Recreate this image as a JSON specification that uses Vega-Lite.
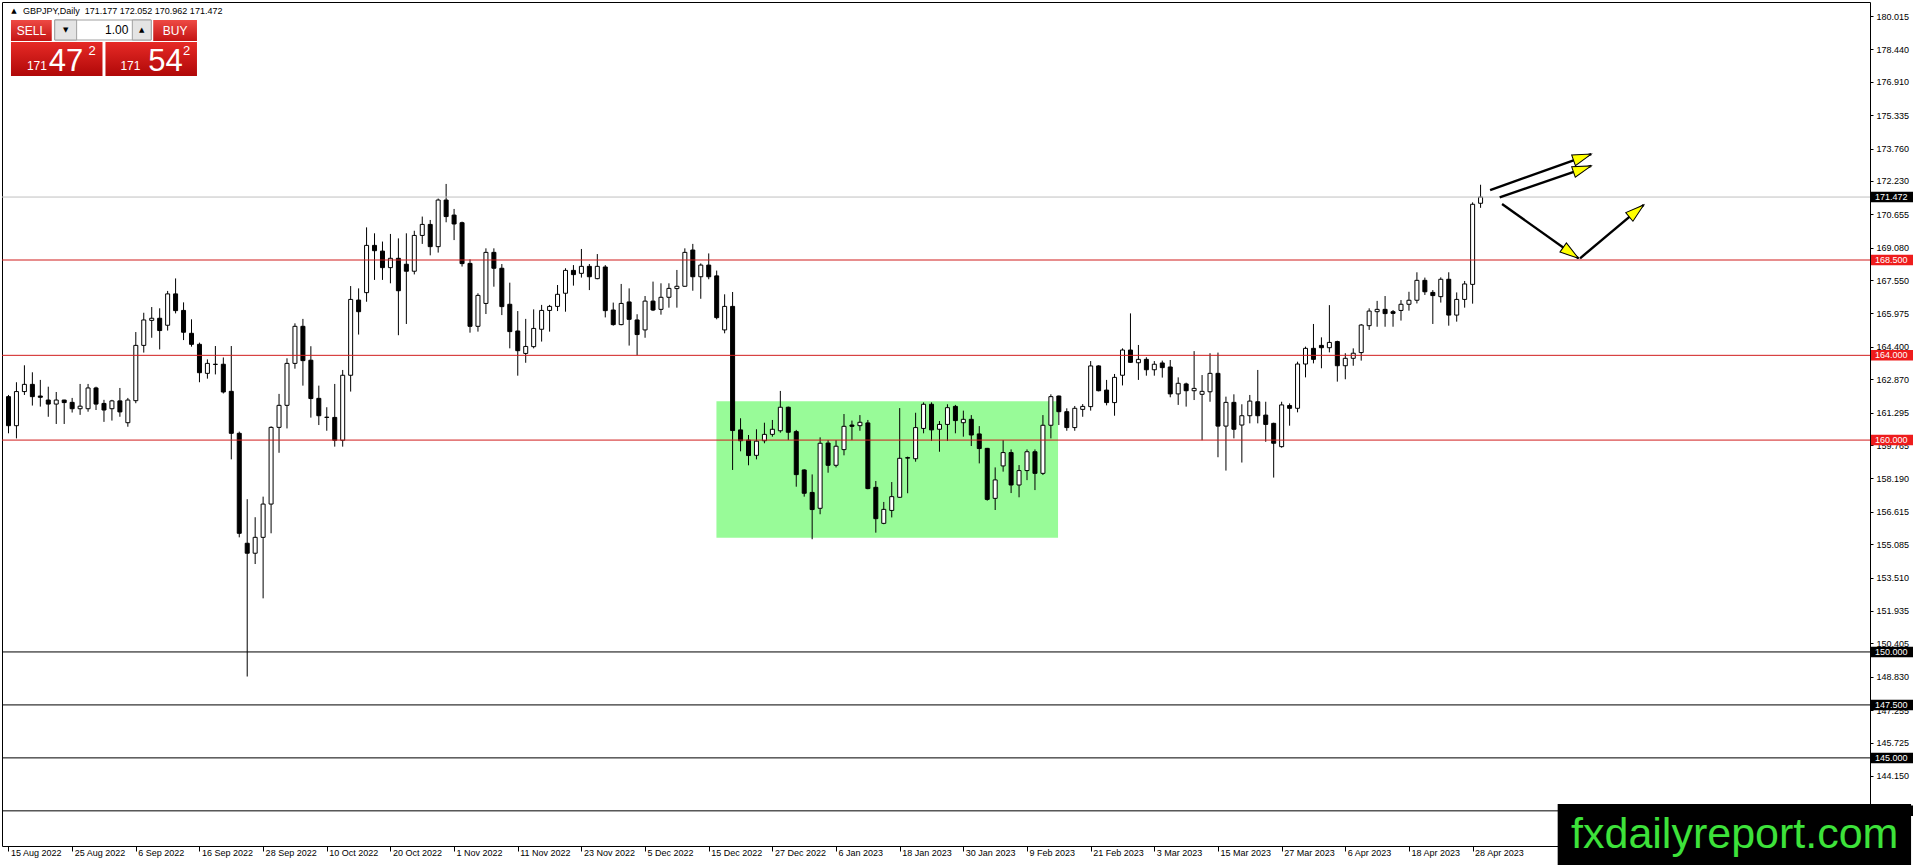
{
  "$schema": "https://vega.github.io/schema/vega-lite/v6.json",
  "width": 1868,
  "height": 844,
  "autosize": {"type": "none"},
  "padding": {"left": 2, "top": 2, "right": 46, "bottom": 19},
  "background": "white",
  "config": {
    "view": {"stroke": "black", "strokeWidth": 1},
    "axis": {
      "grid": false,
      "domain": false,
      "title": null,
      "labelFont": "Liberation Sans",
      "labelFontSize": 9,
      "labelColor": "black",
      "tickColor": "black",
      "labelOverlap": false,
      "labelFlush": false
    },
    "text": {"font": "Liberation Sans"}
  },
  "datasets": {
    "candles": [
      {"i":0,"date":"2022-08-15","o":162.05,"h":162.13,"l":160.32,"c":160.68},
      {"i":1,"date":"2022-08-16","o":160.68,"h":162.73,"l":160.08,"c":162.29},
      {"i":2,"date":"2022-08-17","o":162.29,"h":163.53,"l":162.13,"c":162.63},
      {"i":3,"date":"2022-08-18","o":162.63,"h":163.2,"l":161.63,"c":162.05},
      {"i":4,"date":"2022-08-19","o":162.08,"h":162.84,"l":161.58,"c":162.02},
      {"i":5,"date":"2022-08-22","o":161.89,"h":162.52,"l":161.1,"c":161.7},
      {"i":6,"date":"2022-08-23","o":161.7,"h":162.27,"l":160.76,"c":161.89},
      {"i":7,"date":"2022-08-24","o":161.89,"h":161.9,"l":160.76,"c":161.77},
      {"i":8,"date":"2022-08-25","o":161.78,"h":161.99,"l":161.3,"c":161.48},
      {"i":9,"date":"2022-08-26","o":161.48,"h":162.65,"l":161.19,"c":161.6},
      {"i":10,"date":"2022-08-29","o":161.48,"h":162.65,"l":161.34,"c":162.46},
      {"i":11,"date":"2022-08-30","o":162.46,"h":162.52,"l":161.42,"c":161.7},
      {"i":12,"date":"2022-08-31","o":161.73,"h":161.9,"l":160.86,"c":161.42},
      {"i":13,"date":"2022-09-01","o":161.48,"h":161.9,"l":160.92,"c":161.85},
      {"i":14,"date":"2022-09-02","o":161.85,"h":162.46,"l":161.1,"c":161.33},
      {"i":15,"date":"2022-09-05","o":160.82,"h":161.99,"l":160.63,"c":161.89},
      {"i":16,"date":"2022-09-06","o":161.86,"h":165.1,"l":161.74,"c":164.47},
      {"i":17,"date":"2022-09-07","o":164.47,"h":166.01,"l":164.13,"c":165.67},
      {"i":18,"date":"2022-09-08","o":165.65,"h":166.28,"l":164.83,"c":165.75},
      {"i":19,"date":"2022-09-09","o":165.75,"h":166.22,"l":164.28,"c":165.17},
      {"i":20,"date":"2022-09-12","o":165.42,"h":167.04,"l":165.17,"c":166.9},
      {"i":21,"date":"2022-09-13","o":166.9,"h":167.63,"l":165.98,"c":166.11},
      {"i":22,"date":"2022-09-14","o":166.12,"h":166.5,"l":164.72,"c":165.09},
      {"i":23,"date":"2022-09-15","o":165.04,"h":165.7,"l":164.41,"c":164.52},
      {"i":24,"date":"2022-09-16","o":164.52,"h":164.6,"l":162.73,"c":163.18},
      {"i":25,"date":"2022-09-19","o":163.15,"h":163.81,"l":162.9,"c":163.62},
      {"i":26,"date":"2022-09-20","o":163.58,"h":164.44,"l":163.1,"c":163.57},
      {"i":27,"date":"2022-09-21","o":163.58,"h":163.9,"l":162.2,"c":162.27},
      {"i":28,"date":"2022-09-22","o":162.3,"h":164.44,"l":159.09,"c":160.32},
      {"i":29,"date":"2022-09-23","o":160.32,"h":160.4,"l":155.41,"c":155.6},
      {"i":30,"date":"2022-09-26","o":155.13,"h":157.21,"l":148.84,"c":154.66},
      {"i":31,"date":"2022-09-27","o":154.66,"h":156.36,"l":154.15,"c":155.41},
      {"i":32,"date":"2022-09-28","o":155.41,"h":157.33,"l":152.53,"c":156.98},
      {"i":33,"date":"2022-09-29","o":156.98,"h":160.65,"l":155.6,"c":160.6},
      {"i":34,"date":"2022-09-30","o":160.6,"h":162.18,"l":159.4,"c":161.64},
      {"i":35,"date":"2022-10-03","o":161.64,"h":163.86,"l":160.55,"c":163.62},
      {"i":36,"date":"2022-10-04","o":163.62,"h":165.51,"l":163.37,"c":165.37},
      {"i":37,"date":"2022-10-05","o":165.37,"h":165.72,"l":162.57,"c":163.75},
      {"i":38,"date":"2022-10-06","o":163.77,"h":164.43,"l":161.06,"c":161.96},
      {"i":39,"date":"2022-10-07","o":161.97,"h":162.57,"l":160.71,"c":161.15},
      {"i":40,"date":"2022-10-10","o":161.08,"h":161.55,"l":160.44,"c":161.07},
      {"i":41,"date":"2022-10-11","o":161.07,"h":162.65,"l":159.69,"c":159.99},
      {"i":42,"date":"2022-10-12","o":159.99,"h":163.31,"l":159.69,"c":163.06},
      {"i":43,"date":"2022-10-13","o":163.06,"h":167.27,"l":162.29,"c":166.64},
      {"i":44,"date":"2022-10-14","o":166.61,"h":167.16,"l":164.98,"c":166.06},
      {"i":45,"date":"2022-10-17","o":166.96,"h":170.04,"l":166.53,"c":169.19},
      {"i":46,"date":"2022-10-18","o":169.19,"h":169.76,"l":167.56,"c":168.94},
      {"i":47,"date":"2022-10-19","o":168.92,"h":169.37,"l":167.56,"c":168.14},
      {"i":48,"date":"2022-10-20","o":168.14,"h":169.73,"l":167.4,"c":168.58},
      {"i":49,"date":"2022-10-21","o":168.58,"h":169.52,"l":164.95,"c":167.05},
      {"i":50,"date":"2022-10-24","o":168.3,"h":169.76,"l":165.48,"c":167.97},
      {"i":51,"date":"2022-10-25","o":167.97,"h":169.88,"l":167.82,"c":169.66},
      {"i":52,"date":"2022-10-26","o":169.66,"h":170.55,"l":169.26,"c":170.18},
      {"i":53,"date":"2022-10-27","o":170.18,"h":170.39,"l":168.72,"c":169.13},
      {"i":54,"date":"2022-10-28","o":169.13,"h":171.4,"l":168.85,"c":171.33},
      {"i":55,"date":"2022-10-31","o":171.33,"h":172.09,"l":170.28,"c":170.55},
      {"i":56,"date":"2022-11-01","o":170.62,"h":170.91,"l":169.44,"c":170.2},
      {"i":57,"date":"2022-11-02","o":170.26,"h":170.31,"l":168.19,"c":168.33},
      {"i":58,"date":"2022-11-03","o":168.34,"h":168.53,"l":165.07,"c":165.37},
      {"i":59,"date":"2022-11-04","o":165.37,"h":166.93,"l":165.12,"c":166.83},
      {"i":60,"date":"2022-11-07","o":166.45,"h":169.05,"l":165.95,"c":168.86},
      {"i":61,"date":"2022-11-08","o":168.86,"h":169.05,"l":167.24,"c":168.11},
      {"i":62,"date":"2022-11-09","o":168.11,"h":168.31,"l":165.9,"c":166.3},
      {"i":63,"date":"2022-11-10","o":166.41,"h":167.43,"l":164.33,"c":165.12},
      {"i":64,"date":"2022-11-11","o":165.15,"h":166.09,"l":163.04,"c":164.22},
      {"i":65,"date":"2022-11-14","o":164.09,"h":165.72,"l":163.65,"c":164.42},
      {"i":66,"date":"2022-11-15","o":164.41,"h":166.17,"l":164.33,"c":165.27},
      {"i":67,"date":"2022-11-16","o":165.23,"h":166.38,"l":164.65,"c":166.12},
      {"i":68,"date":"2022-11-17","o":166.12,"h":166.38,"l":165.12,"c":166.31},
      {"i":69,"date":"2022-11-18","o":166.31,"h":167.32,"l":166.09,"c":166.88},
      {"i":70,"date":"2022-11-21","o":166.93,"h":168.11,"l":166.06,"c":168.01},
      {"i":71,"date":"2022-11-22","o":168.01,"h":168.26,"l":167.29,"c":167.81},
      {"i":72,"date":"2022-11-23","o":167.87,"h":169.02,"l":167.67,"c":168.2},
      {"i":73,"date":"2022-11-24","o":168.2,"h":168.31,"l":167.08,"c":167.71},
      {"i":74,"date":"2022-11-25","o":167.62,"h":168.78,"l":167.59,"c":168.2},
      {"i":75,"date":"2022-11-28","o":168.17,"h":168.26,"l":165.79,"c":166.11},
      {"i":76,"date":"2022-11-29","o":166.14,"h":166.49,"l":165.4,"c":165.45},
      {"i":77,"date":"2022-11-30","o":165.45,"h":167.37,"l":165.42,"c":166.45},
      {"i":78,"date":"2022-12-01","o":166.52,"h":167.16,"l":164.46,"c":165.7},
      {"i":79,"date":"2022-12-02","o":165.67,"h":165.94,"l":164.0,"c":164.98},
      {"i":80,"date":"2022-12-05","o":165.2,"h":166.8,"l":164.83,"c":166.56},
      {"i":81,"date":"2022-12-06","o":166.56,"h":167.48,"l":166.09,"c":166.14},
      {"i":82,"date":"2022-12-07","o":166.17,"h":167.4,"l":165.92,"c":166.74},
      {"i":83,"date":"2022-12-08","o":166.74,"h":167.4,"l":166.25,"c":167.16},
      {"i":84,"date":"2022-12-09","o":167.15,"h":168.03,"l":166.25,"c":167.26},
      {"i":85,"date":"2022-12-12","o":167.26,"h":169.05,"l":167.24,"c":168.86},
      {"i":86,"date":"2022-12-13","o":168.97,"h":169.26,"l":167.05,"c":167.71},
      {"i":87,"date":"2022-12-14","o":167.71,"h":168.34,"l":166.67,"c":168.26},
      {"i":88,"date":"2022-12-15","o":168.26,"h":168.81,"l":167.59,"c":167.71},
      {"i":89,"date":"2022-12-16","o":167.75,"h":168.0,"l":165.7,"c":165.78},
      {"i":90,"date":"2022-12-19","o":165.2,"h":166.88,"l":165.04,"c":166.31},
      {"i":91,"date":"2022-12-20","o":166.31,"h":166.99,"l":158.59,"c":160.45},
      {"i":92,"date":"2022-12-21","o":160.48,"h":161.03,"l":159.47,"c":159.97},
      {"i":93,"date":"2022-12-22","o":160.0,"h":160.24,"l":158.81,"c":159.27},
      {"i":94,"date":"2022-12-23","o":159.28,"h":160.51,"l":159.09,"c":159.95},
      {"i":95,"date":"2022-12-26","o":159.97,"h":160.82,"l":159.85,"c":160.27},
      {"i":96,"date":"2022-12-27","o":160.27,"h":160.95,"l":160.16,"c":160.51},
      {"i":97,"date":"2022-12-28","o":160.44,"h":162.32,"l":160.35,"c":161.55},
      {"i":98,"date":"2022-12-29","o":161.55,"h":161.58,"l":160.0,"c":160.37},
      {"i":99,"date":"2022-12-30","o":160.4,"h":160.48,"l":157.8,"c":158.37},
      {"i":100,"date":"2023-01-02","o":158.59,"h":158.62,"l":157.33,"c":157.49},
      {"i":101,"date":"2023-01-03","o":157.53,"h":158.38,"l":155.32,"c":156.72},
      {"i":102,"date":"2023-01-04","o":156.78,"h":160.13,"l":156.5,"c":159.85},
      {"i":103,"date":"2023-01-05","o":159.86,"h":160.0,"l":158.46,"c":158.81},
      {"i":104,"date":"2023-01-06","o":158.81,"h":160.0,"l":158.71,"c":159.71},
      {"i":105,"date":"2023-01-09","o":159.55,"h":161.23,"l":159.28,"c":160.65},
      {"i":106,"date":"2023-01-10","o":160.71,"h":160.92,"l":160.0,"c":160.65},
      {"i":107,"date":"2023-01-11","o":160.68,"h":161.18,"l":160.44,"c":160.84},
      {"i":108,"date":"2023-01-12","o":160.81,"h":160.95,"l":157.68,"c":157.71},
      {"i":109,"date":"2023-01-13","o":157.77,"h":158.07,"l":155.63,"c":156.29},
      {"i":110,"date":"2023-01-16","o":156.07,"h":157.08,"l":156.03,"c":156.73},
      {"i":111,"date":"2023-01-17","o":156.68,"h":158.02,"l":156.35,"c":157.33},
      {"i":112,"date":"2023-01-18","o":157.3,"h":161.51,"l":157.28,"c":159.14},
      {"i":113,"date":"2023-01-19","o":159.17,"h":159.22,"l":157.49,"c":159.15},
      {"i":114,"date":"2023-01-20","o":159.12,"h":161.29,"l":158.98,"c":160.59},
      {"i":115,"date":"2023-01-23","o":160.55,"h":161.78,"l":160.32,"c":161.69},
      {"i":116,"date":"2023-01-24","o":161.69,"h":161.78,"l":159.96,"c":160.48},
      {"i":117,"date":"2023-01-25","o":160.51,"h":160.9,"l":159.45,"c":160.74},
      {"i":118,"date":"2023-01-26","o":160.74,"h":161.69,"l":159.96,"c":161.53},
      {"i":119,"date":"2023-01-27","o":161.59,"h":161.66,"l":160.32,"c":160.92},
      {"i":120,"date":"2023-01-30","o":160.82,"h":161.39,"l":160.16,"c":160.98},
      {"i":121,"date":"2023-01-31","o":160.98,"h":161.18,"l":159.72,"c":160.24},
      {"i":122,"date":"2023-02-01","o":160.29,"h":160.66,"l":158.9,"c":159.6},
      {"i":123,"date":"2023-02-02","o":159.61,"h":159.63,"l":157.14,"c":157.2},
      {"i":124,"date":"2023-02-03","o":157.25,"h":158.71,"l":156.7,"c":158.12},
      {"i":125,"date":"2023-02-06","o":158.78,"h":160.0,"l":158.51,"c":159.41},
      {"i":126,"date":"2023-02-07","o":159.41,"h":159.56,"l":157.5,"c":157.88},
      {"i":127,"date":"2023-02-08","o":157.88,"h":158.82,"l":157.3,"c":158.56},
      {"i":128,"date":"2023-02-09","o":158.56,"h":159.56,"l":158.11,"c":159.45},
      {"i":129,"date":"2023-02-10","o":159.45,"h":159.56,"l":157.64,"c":158.43},
      {"i":130,"date":"2023-02-13","o":158.43,"h":161.18,"l":158.35,"c":160.7},
      {"i":131,"date":"2023-02-14","o":160.7,"h":162.16,"l":160.08,"c":162.05},
      {"i":132,"date":"2023-02-15","o":162.08,"h":162.1,"l":160.71,"c":161.34},
      {"i":133,"date":"2023-02-16","o":161.34,"h":161.5,"l":160.44,"c":160.59},
      {"i":134,"date":"2023-02-17","o":160.59,"h":161.61,"l":160.44,"c":161.5},
      {"i":135,"date":"2023-02-20","o":161.45,"h":161.7,"l":161.1,"c":161.59},
      {"i":136,"date":"2023-02-21","o":161.58,"h":163.73,"l":161.39,"c":163.5},
      {"i":137,"date":"2023-02-22","o":163.5,"h":163.53,"l":162.3,"c":162.33},
      {"i":138,"date":"2023-02-23","o":162.36,"h":162.84,"l":161.64,"c":161.77},
      {"i":139,"date":"2023-02-24","o":161.77,"h":163.12,"l":161.15,"c":162.96},
      {"i":140,"date":"2023-02-27","o":163.06,"h":164.33,"l":162.58,"c":164.25},
      {"i":141,"date":"2023-02-28","o":164.25,"h":165.98,"l":163.65,"c":163.67},
      {"i":142,"date":"2023-03-01","o":163.65,"h":164.49,"l":162.84,"c":163.81},
      {"i":143,"date":"2023-03-02","o":163.81,"h":163.91,"l":163.04,"c":163.32},
      {"i":144,"date":"2023-03-03","o":163.32,"h":163.73,"l":163.04,"c":163.58},
      {"i":145,"date":"2023-03-06","o":163.64,"h":163.75,"l":162.95,"c":163.42},
      {"i":146,"date":"2023-03-07","o":163.45,"h":163.78,"l":162.02,"c":162.18},
      {"i":147,"date":"2023-03-08","o":162.18,"h":162.96,"l":161.66,"c":162.68},
      {"i":148,"date":"2023-03-09","o":162.65,"h":162.71,"l":161.58,"c":162.33},
      {"i":149,"date":"2023-03-10","o":162.33,"h":164.2,"l":161.89,"c":162.44},
      {"i":150,"date":"2023-03-13","o":162.16,"h":163.07,"l":159.99,"c":162.3},
      {"i":151,"date":"2023-03-14","o":162.28,"h":164.1,"l":161.81,"c":163.15},
      {"i":152,"date":"2023-03-15","o":163.15,"h":164.13,"l":159.19,"c":160.66},
      {"i":153,"date":"2023-03-16","o":160.66,"h":162.05,"l":158.56,"c":161.78},
      {"i":154,"date":"2023-03-17","o":161.78,"h":162.16,"l":160.08,"c":160.51},
      {"i":155,"date":"2023-03-20","o":160.71,"h":161.69,"l":158.94,"c":161.15},
      {"i":156,"date":"2023-03-21","o":161.15,"h":162.13,"l":160.79,"c":161.84},
      {"i":157,"date":"2023-03-22","o":161.81,"h":163.31,"l":160.79,"c":161.15},
      {"i":158,"date":"2023-03-23","o":161.18,"h":161.81,"l":159.92,"c":160.74},
      {"i":159,"date":"2023-03-24","o":160.79,"h":160.82,"l":158.23,"c":159.85},
      {"i":160,"date":"2023-03-27","o":159.69,"h":161.81,"l":159.64,"c":161.66},
      {"i":161,"date":"2023-03-28","o":161.63,"h":161.73,"l":160.68,"c":161.5},
      {"i":162,"date":"2023-03-29","o":161.5,"h":163.7,"l":161.31,"c":163.59},
      {"i":163,"date":"2023-03-30","o":163.59,"h":164.41,"l":162.96,"c":164.33},
      {"i":164,"date":"2023-03-31","o":164.33,"h":165.48,"l":163.62,"c":163.81},
      {"i":165,"date":"2023-04-03","o":164.47,"h":164.85,"l":163.39,"c":164.36},
      {"i":166,"date":"2023-04-04","o":164.36,"h":166.37,"l":164.14,"c":164.61},
      {"i":167,"date":"2023-04-05","o":164.65,"h":164.69,"l":162.76,"c":163.51},
      {"i":168,"date":"2023-04-06","o":163.51,"h":164.1,"l":162.87,"c":163.86},
      {"i":169,"date":"2023-04-07","o":163.86,"h":164.33,"l":163.51,"c":164.1},
      {"i":170,"date":"2023-04-10","o":164.13,"h":165.48,"l":163.75,"c":165.43},
      {"i":171,"date":"2023-04-11","o":165.4,"h":166.22,"l":165.2,"c":166.09},
      {"i":172,"date":"2023-04-12","o":166.06,"h":166.57,"l":165.35,"c":166.17},
      {"i":173,"date":"2023-04-13","o":166.17,"h":166.8,"l":165.35,"c":165.97},
      {"i":174,"date":"2023-04-14","o":166.06,"h":166.14,"l":165.35,"c":165.98},
      {"i":175,"date":"2023-04-17","o":166.12,"h":166.61,"l":165.64,"c":166.41},
      {"i":176,"date":"2023-04-18","o":166.41,"h":167.0,"l":166.11,"c":166.6},
      {"i":177,"date":"2023-04-19","o":166.6,"h":167.92,"l":166.45,"c":167.54},
      {"i":178,"date":"2023-04-20","o":167.54,"h":167.67,"l":166.85,"c":167.0},
      {"i":179,"date":"2023-04-21","o":166.97,"h":167.08,"l":165.48,"c":166.82},
      {"i":180,"date":"2023-04-24","o":166.77,"h":167.68,"l":166.49,"c":167.59},
      {"i":181,"date":"2023-04-25","o":167.59,"h":167.92,"l":165.4,"c":165.9},
      {"i":182,"date":"2023-04-26","o":165.9,"h":166.97,"l":165.59,"c":166.64},
      {"i":183,"date":"2023-04-27","o":166.64,"h":167.51,"l":166.25,"c":167.37},
      {"i":184,"date":"2023-04-28","o":167.35,"h":171.22,"l":166.44,"c":171.13},
      {"i":185,"date":"2023-05-01","o":171.177,"h":172.052,"l":170.962,"c":171.472}
    ],
    "levels": [
      {"price": 171.472, "kind": "bid"},
      {"price": 168.5, "kind": "red"},
      {"price": 164.0, "kind": "red"},
      {"price": 160.0, "kind": "red"},
      {"price": 150.0, "kind": "black"},
      {"price": 147.5, "kind": "black"},
      {"price": 145.0, "kind": "black"},
      {"price": 142.5, "kind": "black"}
    ],
    "arrows": [
      {"x1": 186.2, "y1": 171.8, "x2": 198.9, "y2": 173.5},
      {"x1": 187.4, "y1": 171.46, "x2": 198.9, "y2": 172.94},
      {"x1": 187.7, "y1": 171.14, "x2": 197.3, "y2": 168.58},
      {"x1": 197.5, "y1": 168.58, "x2": 205.5, "y2": 171.1}
    ]
  },
  "layer": [
    {
      "data": {"values": [{}]},
      "mark": {"type": "rect", "fill": "#98fb98"},
      "encoding": {
        "x": {"datum": 88.97, "type": "quantitative"},
        "x2": {"datum": 131.9},
        "y": {"datum": 161.83, "type": "quantitative"},
        "y2": {"datum": 155.39}
      }
    },
    {
      "data": {"name": "candles"},
      "mark": {"type": "rule", "color": "black", "strokeWidth": 1},
      "encoding": {
        "x": {
          "field": "i",
          "type": "quantitative",
          "scale": {"domain": [-0.1875, 233.3125], "nice": false, "zero": false},
          "axis": {
            "orient": "bottom",
            "values": [0, 8, 16, 24, 32, 40, 48, 56, 64, 72, 80, 88, 96, 104, 112, 120, 128, 136, 144, 152, 160, 168, 176, 184],
            "labelExpr": "['15 Aug 2022','25 Aug 2022','6 Sep 2022','16 Sep 2022','28 Sep 2022','10 Oct 2022','20 Oct 2022','1 Nov 2022','11 Nov 2022','23 Nov 2022','5 Dec 2022','15 Dec 2022','27 Dec 2022','6 Jan 2023','18 Jan 2023','30 Jan 2023','9 Feb 2023','21 Feb 2023','3 Mar 2023','15 Mar 2023','27 Mar 2023','6 Apr 2023','18 Apr 2023','28 Apr 2023'][round(datum.value / 8)]",
            "labelAlign": "left",
            "labelBaseline": "top",
            "labelOffset": 2,
            "labelOverlap": false,
            "tickCount": 60,
            "tickSize": 5,
            "labelPadding": -3
          }
        },
        "y": {
          "field": "l",
          "type": "quantitative",
          "scale": {"domain": [140.8408, 180.6776], "nice": false, "zero": false},
          "axis": {
            "orient": "right",
            "values": [180.015, 178.44, 176.91, 175.335, 173.76, 172.23, 170.655, 169.08, 167.55, 165.975, 164.4, 162.87, 161.295, 159.765, 158.19, 156.615, 155.085, 153.51, 151.935, 150.405, 148.83, 147.255, 145.725, 144.15],
            "format": ".3f",
            "labelOverlap": false,
            "tickCount": 60,
            "tickSize": 3,
            "labelPadding": 3,
            "labelBaseline": "middle"
          }
        },
        "y2": {"field": "h"}
      }
    },
    {
      "data": {"name": "candles"},
      "mark": {"type": "bar", "size": 4, "stroke": "black", "strokeWidth": 1},
      "encoding": {
        "x": {"field": "i", "type": "quantitative"},
        "y": {"field": "o", "type": "quantitative"},
        "y2": {"field": "c"},
        "fill": {"condition": {"test": "datum.c >= datum.o", "value": "white"}, "value": "black"}
      }
    },
    {
      "data": {"name": "levels"},
      "mark": {"type": "rule", "strokeWidth": 1},
      "encoding": {
        "y": {"field": "price", "type": "quantitative"},
        "color": {
          "condition": [
            {"test": "datum.kind == 'bid'", "value": "#c0c0c0"},
            {"test": "datum.kind == 'red'", "value": "#d01c1c"}
          ],
          "value": "black"
        }
      }
    },
    {
      "data": {"name": "arrows"},
      "mark": {"type": "rule", "color": "black", "strokeWidth": 2.4},
      "encoding": {
        "x": {"field": "x1", "type": "quantitative"},
        "y": {"field": "y1", "type": "quantitative"},
        "x2": {"field": "x2"},
        "y2": {"field": "y2"}
      }
    },
    {
      "data": {"name": "arrows"},
      "transform": [
        {"calculate": "atan2((datum.x2 - datum.x1) * 8, (datum.y2 - datum.y1) / 0.0472) * 180 / PI", "as": "ang"}
      ],
      "mark": {
        "type": "point",
        "shape": "M0,0 L0.6,2 L-0.6,2 Z",
        "size": 350,
        "filled": true,
        "fill": "#ffff00",
        "stroke": "black",
        "strokeWidth": 1,
        "opacity": 1
      },
      "encoding": {
        "x": {"field": "x2", "type": "quantitative"},
        "y": {"field": "y2", "type": "quantitative"},
        "angle": {"field": "ang", "type": "quantitative", "scale": null}
      }
    },
    {
      "data": {"name": "levels"},
      "mark": {"type": "rule", "strokeWidth": 10.5, "strokeCap": "butt", "xOffset": 1, "x2Offset": 43},
      "encoding": {
        "x": {"value": "width"},
        "x2": {"value": "width"},
        "y": {"field": "price", "type": "quantitative"},
        "color": {
          "condition": {"test": "datum.kind == 'red'", "value": "#ee1c1c"},
          "value": "black"
        }
      }
    },
    {
      "data": {"name": "levels"},
      "mark": {"type": "text", "align": "left", "baseline": "middle", "dx": 5, "fontSize": 9, "fill": "white"},
      "encoding": {
        "x": {"value": "width"},
        "y": {"field": "price", "type": "quantitative"},
        "text": {"field": "price", "type": "quantitative", "format": ".3f"}
      }
    },
    {
      "data": {"values": [{}]},
      "mark": {
        "type": "rect",
        "fill": {"gradient": "linear", "x1": 0, "y1": 0, "x2": 0, "y2": 1, "stops": [{"offset": 0, "color": "#ee4a44"}, {"offset": 1, "color": "#c41414"}]}
      },
      "encoding": {
        "x": {"datum": 0.3125, "type": "quantitative"},
        "x2": {"datum": 5.4375},
        "y": {"datum": 179.828, "type": "quantitative"},
        "y2": {"datum": 178.837}
      }
    },
    {
      "data": {"values": [{}]},
      "mark": {
        "type": "rect",
        "fill": {"gradient": "linear", "x1": 0, "y1": 0, "x2": 0, "y2": 1, "stops": [{"offset": 0, "color": "#ee4a44"}, {"offset": 1, "color": "#c41414"}]}
      },
      "encoding": {
        "x": {"datum": 18.1875, "type": "quantitative"},
        "x2": {"datum": 23.6875},
        "y": {"datum": 179.828, "type": "quantitative"},
        "y2": {"datum": 178.837}
      }
    },
    {
      "data": {"values": [{}]},
      "mark": {"type": "rect", "fill": "white", "stroke": "#a0a0a0", "strokeWidth": 1},
      "encoding": {
        "x": {"datum": 5.8125, "type": "quantitative"},
        "x2": {"datum": 17.9375},
        "y": {"datum": 179.828, "type": "quantitative"},
        "y2": {"datum": 178.884}
      }
    },
    {
      "data": {"values": [{}]},
      "mark": {"type": "rect", "fill": "#e4e4e4", "stroke": "#a0a0a0", "strokeWidth": 1},
      "encoding": {
        "x": {"datum": 5.8125, "type": "quantitative"},
        "x2": {"datum": 8.5625},
        "y": {"datum": 179.828, "type": "quantitative"},
        "y2": {"datum": 178.884}
      }
    },
    {
      "data": {"values": [{}]},
      "mark": {"type": "rect", "fill": "#e4e4e4", "stroke": "#a0a0a0", "strokeWidth": 1},
      "encoding": {
        "x": {"datum": 15.5625, "type": "quantitative"},
        "x2": {"datum": 17.9375},
        "y": {"datum": 179.828, "type": "quantitative"},
        "y2": {"datum": 178.884}
      }
    },
    {
      "data": {"values": [{}]},
      "mark": {
        "type": "rect",
        "fill": {"gradient": "linear", "x1": 0, "y1": 0, "x2": 0, "y2": 1, "stops": [{"offset": 0, "color": "#e62a26"}, {"offset": 1, "color": "#b00808"}]}
      },
      "encoding": {
        "x": {"datum": 0.3125, "type": "quantitative"},
        "x2": {"datum": 11.8125},
        "y": {"datum": 178.7896, "type": "quantitative"},
        "y2": {"datum": 177.1848}
      }
    },
    {
      "data": {"values": [{}]},
      "mark": {
        "type": "rect",
        "fill": {"gradient": "linear", "x1": 0, "y1": 0, "x2": 0, "y2": 1, "stops": [{"offset": 0, "color": "#e62a26"}, {"offset": 1, "color": "#b00808"}]}
      },
      "encoding": {
        "x": {"datum": 12.1875, "type": "quantitative"},
        "x2": {"datum": 23.6875},
        "y": {"datum": 178.7896, "type": "quantitative"},
        "y2": {"datum": 177.1848}
      }
    },
    {
      "data": {"values": [{}]},
      "mark": {"type": "text", "text": "▲", "fontSize": 7, "align": "center", "baseline": "middle", "fill": "black", "font": "DejaVu Sans"},
      "encoding": {"x": {"datum": 0.6875, "type": "quantitative"}, "y": {"datum": 180.2528, "type": "quantitative"}}
    },
    {
      "data": {"values": [{}]},
      "mark": {"type": "text", "text": "GBPJPY,Daily\u00a0 171.177 172.052 170.962 171.472", "fontSize": 9, "align": "left", "baseline": "middle", "fill": "black"},
      "encoding": {"x": {"datum": 1.8125, "type": "quantitative"}, "y": {"datum": 180.2528, "type": "quantitative"}}
    },
    {
      "data": {"values": [{}]},
      "mark": {"type": "text", "text": "SELL", "fontSize": 12, "align": "center", "baseline": "middle", "fill": "white"},
      "encoding": {"x": {"datum": 2.875, "type": "quantitative"}, "y": {"datum": 179.3088, "type": "quantitative"}}
    },
    {
      "data": {"values": [{}]},
      "mark": {"type": "text", "text": "BUY", "fontSize": 12, "align": "center", "baseline": "middle", "fill": "white"},
      "encoding": {"x": {"datum": 20.9375, "type": "quantitative"}, "y": {"datum": 179.3088, "type": "quantitative"}}
    },
    {
      "data": {"values": [{}]},
      "mark": {"type": "text", "text": "▼", "fontSize": 7, "align": "center", "baseline": "middle", "fill": "black", "font": "DejaVu Sans"},
      "encoding": {"x": {"datum": 7.1875, "type": "quantitative"}, "y": {"datum": 179.356, "type": "quantitative"}}
    },
    {
      "data": {"values": [{}]},
      "mark": {"type": "text", "text": "▲", "fontSize": 7, "align": "center", "baseline": "middle", "fill": "black", "font": "DejaVu Sans"},
      "encoding": {"x": {"datum": 16.75, "type": "quantitative"}, "y": {"datum": 179.356, "type": "quantitative"}}
    },
    {
      "data": {"values": [{}]},
      "mark": {"type": "text", "text": "1.00", "fontSize": 12, "align": "right", "baseline": "middle", "fill": "black"},
      "encoding": {"x": {"datum": 15.0625, "type": "quantitative"}, "y": {"datum": 179.356, "type": "quantitative"}}
    },
    {
      "data": {"values": [{}]},
      "mark": {"type": "text", "text": "171", "fontSize": 12, "align": "left", "baseline": "alphabetic", "fill": "white"},
      "encoding": {"x": {"datum": 2.3125, "type": "quantitative"}, "y": {"datum": 177.468, "type": "quantitative"}}
    },
    {
      "data": {"values": [{}]},
      "mark": {"type": "text", "text": "47", "fontSize": 31, "align": "left", "baseline": "alphabetic", "fill": "white"},
      "encoding": {"x": {"datum": 5.0625, "type": "quantitative"}, "y": {"datum": 177.4208, "type": "quantitative"}}
    },
    {
      "data": {"values": [{}]},
      "mark": {"type": "text", "text": "2", "fontSize": 13, "align": "left", "baseline": "alphabetic", "fill": "white"},
      "encoding": {"x": {"datum": 10.0625, "type": "quantitative"}, "y": {"datum": 178.176, "type": "quantitative"}}
    },
    {
      "data": {"values": [{}]},
      "mark": {"type": "text", "text": "171", "fontSize": 12, "align": "left", "baseline": "alphabetic", "fill": "white"},
      "encoding": {"x": {"datum": 14.0625, "type": "quantitative"}, "y": {"datum": 177.468, "type": "quantitative"}}
    },
    {
      "data": {"values": [{}]},
      "mark": {"type": "text", "text": "54", "fontSize": 31, "align": "left", "baseline": "alphabetic", "fill": "white"},
      "encoding": {"x": {"datum": 17.5625, "type": "quantitative"}, "y": {"datum": 177.4208, "type": "quantitative"}}
    },
    {
      "data": {"values": [{}]},
      "mark": {"type": "text", "text": "2", "fontSize": 13, "align": "left", "baseline": "alphabetic", "fill": "white"},
      "encoding": {"x": {"datum": 21.9375, "type": "quantitative"}, "y": {"datum": 178.176, "type": "quantitative"}}
    },
    {
      "data": {"values": [{}]},
      "mark": {"type": "rect", "fill": "black"},
      "encoding": {
        "x": {"datum": 194.69, "type": "quantitative"},
        "x2": {"datum": 239.1},
        "y": {"datum": 142.82, "type": "quantitative"},
        "y2": {"datum": 139.9}
      }
    },
    {
      "data": {"values": [{}]},
      "mark": {"type": "text", "text": "fxdailyreport.com", "font": "Liberation Sans", "fontSize": 43, "align": "center", "baseline": "alphabetic", "fill": "#3de23a"},
      "encoding": {"x": {"datum": 216.94, "type": "quantitative"}, "y": {"datum": 140.75, "type": "quantitative"}}
    }
  ]
}
